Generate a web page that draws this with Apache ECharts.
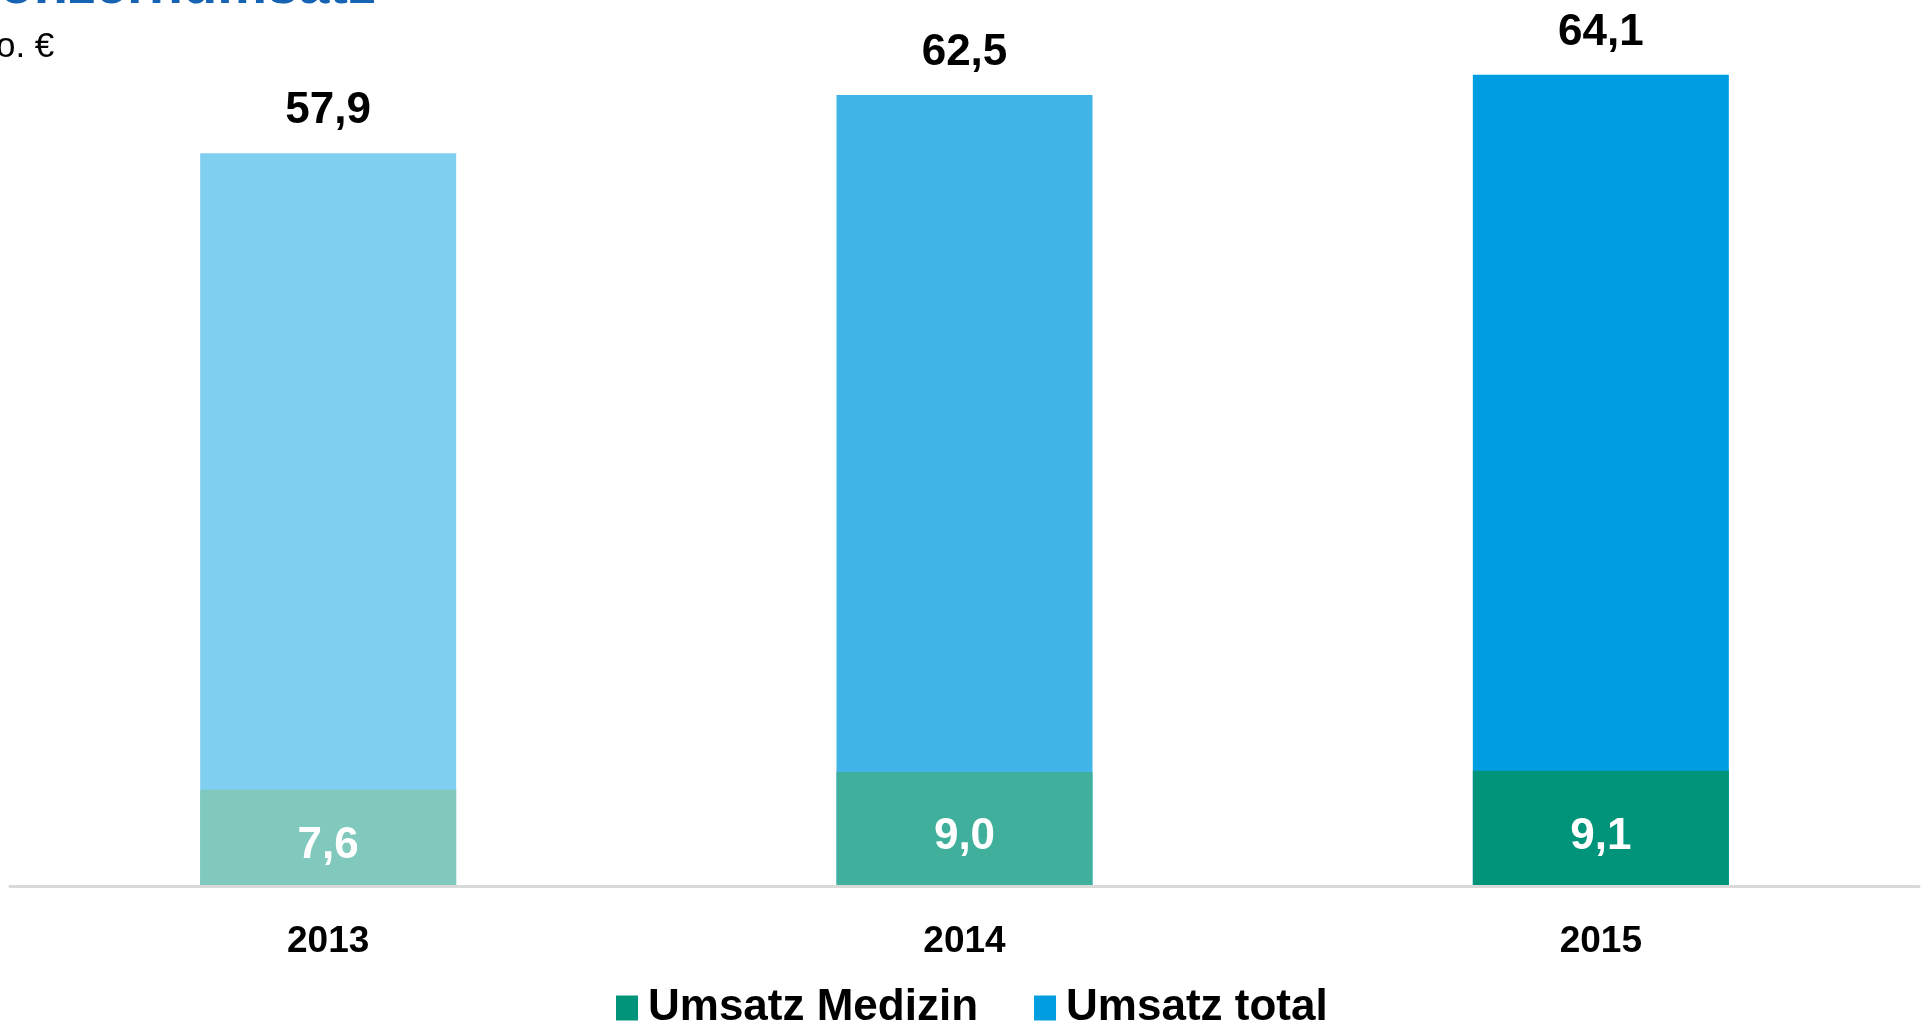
<!DOCTYPE html>
<html>
<head>
<meta charset="utf-8">
<script src="https://cdn.jsdelivr.net/npm/echarts@6/dist/echarts.min.js"></script>
<style>
  html, body { margin: 0; padding: 0; background: #fff; }
  #main { width: 1923px; height: 1023px; }
</style>
</head>
<body>
<div id="main"></div>
<script>
var years = ['2013', '2014', '2015'];
var medizin = [7.6, 9.0, 9.1];
var total = [57.9, 62.5, 64.1];

// Farben je Jahr, von hell nach kräftig
var blues = ['#80CEF0', '#41B5E7', '#009EE0'];
var greens = ['#81C9BD', '#40AF9C', '#00957B'];

var fontFam = '"Liberation Sans", Arial, sans-serif';

function fmt(v) {
  return v.toFixed(1).replace('.', ',');
}

var myChart = echarts.init(document.getElementById('main'));

var option = {
  animation: false,
  textStyle: { fontFamily: fontFam },
  graphic: [
    {
      type: 'text',
      x: -41,
      y: -12,
      style: {
        text: 'Konzernumsatz',
        font: 'bold 56px ' + fontFam,
        fill: '#1763B3',
        verticalAlign: 'middle'
      }
    },
    {
      type: 'text',
      x: -41,
      y: 47,
      style: {
        text: 'Mio. €',
        font: '35px ' + fontFam,
        fill: '#000',
        verticalAlign: 'middle'
      }
    }
  ],
  legend: {
    data: ['Umsatz Medizin', 'Umsatz total'],
    left: 611,
    top: 981,
    itemWidth: 22,
    itemHeight: 25,
    itemGap: 56,
    icon: 'rect',
    textStyle: {
      fontSize: 44,
      fontWeight: 'bold',
      color: '#000',
      fontFamily: fontFam,
      padding: [0, 0, 0, 5]
    }
  },
  grid: {
    left: 10,
    right: 4,
    top: 0,
    bottom: 137,
    containLabel: false
  },
  xAxis: {
    type: 'category',
    data: years,
    z: 5,
    axisLine: { lineStyle: { color: '#d9d9d9', width: 3 } },
    axisTick: { show: false },
    axisLabel: {
      margin: 37,
      fontSize: 37,
      fontWeight: 'bold',
      color: '#000',
      fontFamily: fontFam
    }
  },
  yAxis: {
    type: 'value',
    min: 0,
    max: 70,
    show: false,
    splitLine: { show: false }
  },
  series: [
    {
      name: 'Umsatz total',
      type: 'bar',
      barWidth: 256,
      barGap: '-100%',
      itemStyle: { color: blues[2] },
      data: total.map(function (v, i) {
        return { value: v, itemStyle: { color: blues[i] } };
      }),
      label: {
        show: true,
        position: 'top',
        distance: 20,
        fontSize: 44,
        fontWeight: 'bold',
        color: '#000',
        fontFamily: fontFam,
        formatter: function (p) { return fmt(p.value); }
      }
    },
    {
      name: 'Umsatz Medizin',
      type: 'bar',
      barWidth: 256,
      barGap: '-100%',
      itemStyle: { color: greens[2] },
      data: medizin.map(function (v, i) {
        return { value: v, itemStyle: { color: greens[i] } };
      }),
      label: {
        show: true,
        position: 'inside',
        offset: [0, 8],
        fontSize: 44,
        fontWeight: 'bold',
        color: '#fff',
        fontFamily: fontFam,
        formatter: function (p) { return fmt(p.value); }
      }
    }
  ]
};

myChart.setOption(option);
</script>
</body>
</html>
